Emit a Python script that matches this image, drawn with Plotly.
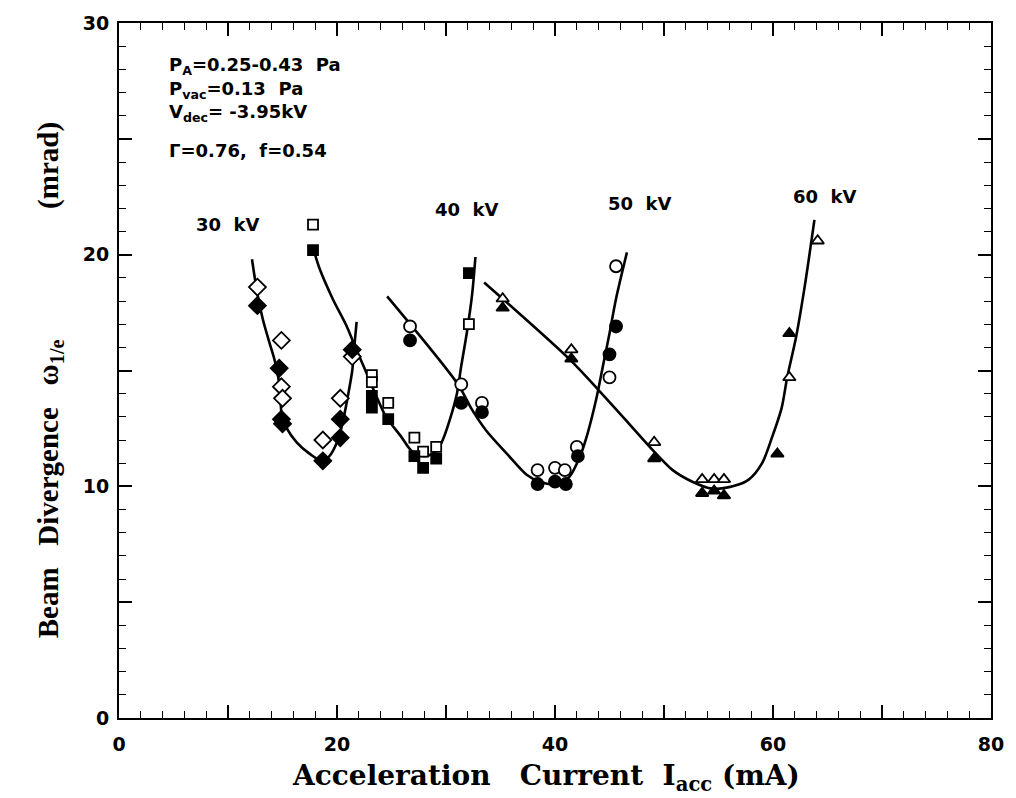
import plotly.graph_objects as go

# ---- measured data: beam divergence (mrad) vs acceleration current (mA) ----
# 30 kV (diamonds)
i30_open = [12.7, 14.9, 14.9, 15.0, 18.7, 20.3, 21.4]
w30_open = [18.6, 16.3, 14.3, 13.8, 12.0, 13.8, 15.6]
i30_fill = [12.7, 14.7, 14.9, 15.0, 18.7, 20.3, 20.3, 21.4]
w30_fill = [17.8, 15.1, 12.9, 12.7, 11.1, 12.9, 12.1, 15.9]
# 40 kV (squares)
i40_open = [17.8, 23.2, 23.2, 24.7, 27.1, 27.9, 29.1, 32.1]
w40_open = [21.3, 14.8, 14.5, 13.6, 12.1, 11.5, 11.7, 17.0]
i40_fill = [17.8, 23.2, 23.2, 24.7, 27.1, 27.9, 29.1, 32.1]
w40_fill = [20.2, 13.9, 13.4, 12.9, 11.3, 10.8, 11.2, 19.2]
# 50 kV (circles)
i50_open = [26.7, 31.4, 33.3, 38.4, 40.0, 40.9, 42.0, 45.0, 45.6]
w50_open = [16.9, 14.4, 13.6, 10.7, 10.8, 10.7, 11.7, 14.7, 19.5]
i50_fill = [26.7, 31.4, 33.3, 38.4, 40.0, 41.0, 42.1, 45.0, 45.6]
w50_fill = [16.3, 13.6, 13.2, 10.1, 10.2, 10.1, 11.3, 15.7, 16.9]
# 60 kV (triangles)
i60_open = [35.2, 41.5, 49.1, 53.5, 54.6, 55.5, 61.5, 64.1]
w60_open = [18.1, 15.9, 11.9, 10.3, 10.3, 10.3, 14.7, 20.6]
i60_fill = [35.2, 41.5, 49.1, 53.5, 54.6, 55.5, 60.4, 61.5]
w60_fill = [17.7, 15.5, 11.2, 9.7, 9.8, 9.6, 11.4, 16.6]

# ---- hand-fitted guide curves ----
i30_fit = [12.2, 12.7, 13.2, 13.8, 14.3, 14.8, 14.9, 15.4, 16.3, 17.5, 18.6, 19.3, 20.0, 20.5, 21.0, 21.4, 21.6, 21.8]
w30_fit = [19.8, 18.3, 17.2, 16.2, 15.4, 14.1, 13.2, 12.5, 11.9, 11.4, 11.1, 11.3, 11.9, 12.7, 13.9, 15.0, 16.1, 17.1]
i40_fit = [17.8, 18.4, 19.6, 20.9, 21.6, 22.7, 23.6, 24.5, 25.8, 26.9, 28.0, 29.1, 29.7, 30.3, 31.0, 31.4, 31.9, 32.4, 32.7]
w40_fit = [20.3, 19.4, 18.1, 16.9, 16.1, 14.9, 13.9, 13.0, 12.2, 11.5, 11.3, 11.5, 12.0, 12.8, 14.0, 15.2, 16.6, 18.3, 19.9]
i50_fit = [24.6, 31.1, 32.4, 33.7, 35.6, 37.4, 38.6, 40.1, 41.3, 42.3, 43.0, 43.8, 44.4, 45.0, 45.6, 46.6]
w50_fit = [18.2, 14.4, 13.3, 12.4, 11.4, 10.5, 10.2, 10.1, 10.4, 11.3, 12.3, 13.8, 15.2, 16.6, 18.1, 20.1]
i60_fit = [33.5, 41.3, 44.1, 46.8, 48.9, 50.8, 52.6, 54.4, 56.3, 57.8, 59.0, 59.9, 60.8, 61.3, 62.1, 62.9, 63.8]
w60_fit = [18.8, 15.5, 14.1, 12.7, 11.6, 10.7, 10.2, 9.9, 10.0, 10.3, 11.0, 12.1, 13.4, 14.7, 16.4, 18.6, 21.5]

# ---- curve labels ----
label_text = ["30\u00a0\u00a0kV", "40\u00a0\u00a0kV", "50\u00a0\u00a0kV", "60\u00a0\u00a0kV"]
label_x = [10.0, 31.9, 47.8, 64.8]
label_y = [21.3, 21.95, 22.2, 22.5]

# ---- condition notes ----
note_text = [
    "P<sub>A</sub>=0.25-0.43\u00a0\u00a0Pa",
    "P<sub>vac</sub>=0.13\u00a0\u00a0Pa",
    "V<sub>dec</sub>=\u00a0-3.95kV",
    "\u0393=0.76,\u00a0\u00a0f=0.54",
]
note_y = [28.15, 27.1, 26.1, 24.5]
note_x = 4.4

# ---- axis ticks ----
x_label_ticks = [0, 20, 40, 60, 80]
x_long_ticks = [10, 30, 50, 70]
y_label_ticks = [0, 10, 20, 30]
y_long_ticks = [5, 15, 25]

BLACK = "black"
NB = "\u00a0"
fig = go.Figure()

for xs, ys in [(i30_fit, w30_fit), (i40_fit, w40_fit), (i50_fit, w50_fit), (i60_fit, w60_fit)]:
    fig.add_trace(go.Scatter(x=xs, y=ys, mode="lines",
                             line=dict(color=BLACK, width=2.6, shape="spline", smoothing=0.8),
                             showlegend=False, hoverinfo="skip"))

def pts(xs, ys, symbol, size, filled):
    fig.add_trace(go.Scatter(
        x=xs, y=ys, mode="markers", showlegend=False,
        marker=dict(symbol=symbol, size=size,
                    color=BLACK if filled else "white",
                    line=dict(color=BLACK, width=1.8)),
    ))

pts(i30_open, w30_open, "diamond", 13, False)
pts(i30_fill, w30_fill, "diamond", 13, True)
pts(i40_open, w40_open, "square", 10, False)
pts(i40_fill, w40_fill, "square", 10, True)
pts(i50_open, w50_open, "circle", 12, False)
pts(i50_fill, w50_fill, "circle", 12, True)
pts(i60_open, w60_open, "triangle-up", 11, False)
pts(i60_fill, w60_fill, "triangle-up", 11, True)

# empty trace that carries the secondary (tick-only) axes
fig.add_trace(go.Scatter(x=[], y=[], xaxis="x2", yaxis="y2", showlegend=False, hoverinfo="skip"))

label_font = dict(family="DejaVu Sans", size=18, color=BLACK, weight="bold")
annotations = []
for t, x, y in zip(label_text, label_x, label_y):
    annotations.append(dict(x=x, y=y, text=t, showarrow=False, xref="x", yref="y", font=label_font))
for t, y in zip(note_text, note_y):
    annotations.append(dict(x=note_x, y=y, text=t, showarrow=False, xref="x", yref="y",
                            xanchor="left", font=label_font))

# axis titles, placed as paper-anchored annotations
x_title = "Acceleration" + NB * 3 + "Current" + NB * 2 + "I<sub>acc</sub>" + NB + "(mA)"
y_title = "Beam" + NB * 3 + "Divergence" + NB * 3 + "\u03c9<sub>1/e</sub>" + NB * 18 + "(mrad)"
annotations.append(dict(text=x_title, xref="paper", yref="paper", x=0.1957, y=-0.086,
                        xanchor="left", yanchor="middle", showarrow=False,
                        font=dict(family="DejaVu Serif", size=28, color=BLACK, weight="bold")))
annotations.append(dict(text=y_title, xref="paper", yref="paper", x=-0.079, y=0.112,
                        xanchor="center", yanchor="bottom", textangle=-90, showarrow=False,
                        font=dict(family="Liberation Serif", size=29, color=BLACK, weight="bold")))

tick_font = dict(family="DejaVu Sans", size=19, color=BLACK, weight="bold")

common = dict(showgrid=False, zeroline=False, showline=True, linecolor=BLACK, linewidth=2,
              mirror="ticks", ticks="inside", tickcolor=BLACK)

fig.update_layout(
    width=1016, height=798,
    paper_bgcolor="white", plot_bgcolor="white",
    margin=dict(l=119, r=23, t=22, b=80),
    annotations=annotations,
    xaxis=dict(
        range=[0, 80], tickvals=x_label_ticks, ticklen=13, tickwidth=1.6,
        minor=dict(dtick=2, ticks="inside", ticklen=7, tickwidth=1.3, tickcolor=BLACK),
        tickfont=tick_font, ticklabelstandoff=8,
        **common,
    ),
    yaxis=dict(
        range=[0, 30], tickvals=y_label_ticks, ticklen=13, tickwidth=1.6,
        minor=dict(dtick=1, ticks="inside", ticklen=7, tickwidth=1.3, tickcolor=BLACK),
        tickfont=tick_font, ticklabelstandoff=4,
        **common,
    ),
    xaxis2=dict(range=[0, 80], overlaying="x", anchor="y2", side="bottom",
                tickvals=x_long_ticks, ticklen=13, tickwidth=1.6, showticklabels=False,
                **common),
    yaxis2=dict(range=[0, 30], overlaying="y", anchor="x2", side="left",
                tickvals=y_long_ticks, ticklen=13, tickwidth=1.6, showticklabels=False,
                **common),
)

fig.write_html("out.html")
